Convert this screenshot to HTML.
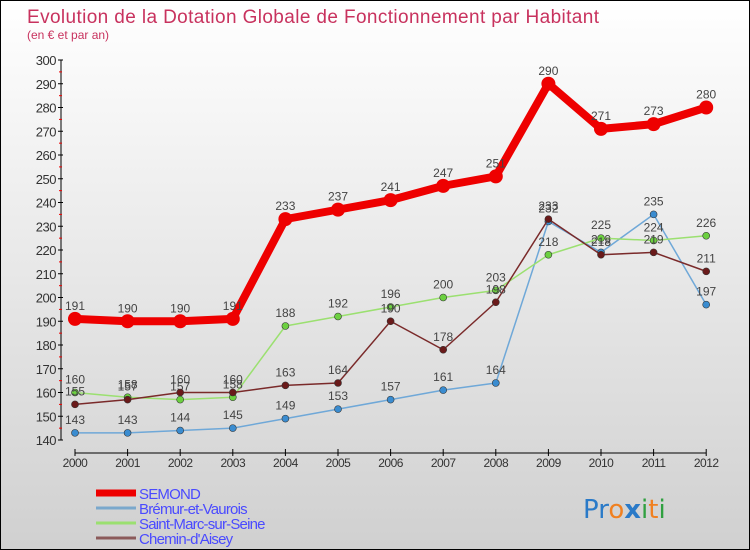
<!DOCTYPE html>
<html><head><meta charset="utf-8"><style>
body{margin:0;width:750px;height:550px;overflow:hidden;font-family:"Liberation Sans",sans-serif}
#wrap{position:relative;width:748px;height:548px;border:1px solid #000;background:linear-gradient(#fff,#d0d0d0)}
</style></head><body>
<div id="wrap">
<svg id="c" width="748" height="548" style="position:absolute;left:0;top:0">
<text x="26" y="22" font-size="19" textLength="572" fill="#c8325e">Evolution de la Dotation Globale de Fonctionnement par Habitant</text>
<text x="26" y="38" font-size="12" fill="#c8325e">(en € et par an)</text>
</svg>
</div>
<script>
const years=[2000,2001,2002,2003,2004,2005,2006,2007,2008,2009,2010,2011,2012];
const yTicks=[140,150,160,170,180,190,200,210,220,230,240,250,260,270,280,290,300];
const semond=[191,190,190,191,233,237,241,247,251,290,271,273,280];
const bremur=[143,143,144,145,149,153,157,161,164,232,219,235,197];
const stmarc=[160,158,157,158,188,192,196,200,203,218,225,224,226];
const chemin=[155,157,160,160,163,164,190,178,198,233,218,219,211];
const svg=document.getElementById('c');const NS='http://www.w3.org/2000/svg';
function X(i){return 74+i*52.6;}
function Y(v){return 59+(300-v)*2.375;}
function mk(t,a,p){const e=document.createElementNS(NS,t);for(const k in a)e.setAttribute(k,a[k]);(p||svg).appendChild(e);return e;}
const ax=mk('g',{});


mk('line',{x1:60,y1:Y(300),x2:60,y2:Y(140),stroke:'#000'},ax);
yTicks.forEach(v=>{mk('line',{x1:57,y1:Y(v),x2:62,y2:Y(v),stroke:'#000'},ax);
 if(v>140)mk('line',{x1:58,y1:Y(v)+11.9,x2:61,y2:Y(v)+11.9,stroke:'#e00'},ax);
 const t=mk('text',{x:55,y:Y(v)+5,'text-anchor':'end','font-size':13,fill:'#333','letter-spacing':'-0.5'},ax);t.textContent=v;
 
 });
mk('line',{x1:X(0),y1:452,x2:X(12),y2:452,stroke:'#000'},ax);
years.forEach((y,i)=>{mk('line',{x1:X(i),y1:448,x2:X(i),y2:455,stroke:'#000'},ax);
 const t=mk('text',{x:X(i),y:466,'text-anchor':'middle','font-size':12,fill:'#333','letter-spacing':'-0.5'},ax);t.textContent=y;
 
 });
function series(d,col,dot,w,r,name){const g=mk('g',{});
 
 
 mk('polyline',{points:d.map((v,i)=>X(i)+','+Y(v)).join(' '),fill:'none',stroke:col,'stroke-width':w,'stroke-linejoin':'round'},g);
 d.forEach((v,i)=>{const c=mk('circle',{cx:X(i),cy:Y(v),r:r,fill:dot,stroke:'#333','stroke-width':r>4?0:0.6},g);
  
  
  const t=mk('text',{x:X(i),y:Y(v)-9,'text-anchor':'middle','font-size':12,fill:'#444'},g);t.textContent=v;
  
  });}
series(bremur,'#6fa8d8','#3a8cd0',1.5,3.5,'bremur-series');
series(stmarc,'#9be070','#6cd040',1.5,3.5,'stmarc-series');
series(chemin,'#7a2a2a','#6a1a1a',1.5,3.5,'chemin-series');
series(semond,'#ee0000','#ee0000',8,7,'semond-series');
const lg=[['SEMOND','#ee0000',7],['Brémur-et-Vaurois','#7aa8cc',3],['Saint-Marc-sur-Seine','#9be070',3],['Chemin-d\'Aisey','#8b5a5a',3]];
lg.forEach((l,i)=>{const y=492+i*15;const g=mk('g',{});
 
 
 mk('line',{x1:95,y1:y,x2:135,y2:y,stroke:l[1],'stroke-width':l[2]},g);
 const t=mk('text',{x:138,y:y+6,'font-size':15,fill:'#4a4aff','letter-spacing':'-0.8'},g);t.textContent=l[0];});
const lo=mk('text',{x:582,y:517,'font-size':26,'font-family':'DejaVu Sans, sans-serif'});


[['Pr','#2a7ac8'],['o','#f08020'],['x','#2a7ac8'],['i','#30a040'],['t','#f08020'],['i','#30a040']].forEach(p=>{const s=mk('tspan',{fill:p[1],'font-weight':p[0]=='x'?'bold':'normal'},lo);s.textContent=p[0];});
</script>
</body></html>
